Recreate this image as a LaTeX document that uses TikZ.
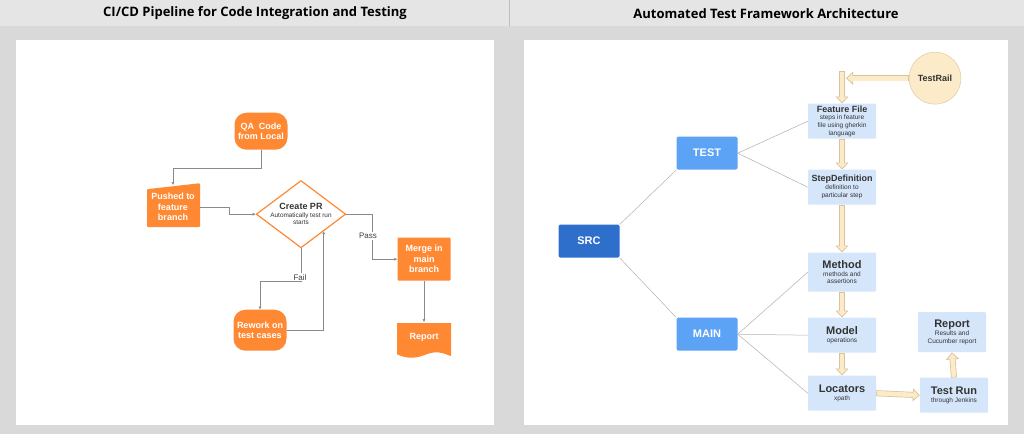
\documentclass[tikz,border=0pt]{standalone}
\usepackage{fontspec}
\setmainfont{Liberation Sans}
\newfontfamily\titlefont{Open Sans}
\usetikzlibrary{shapes.geometric,arrows.meta,backgrounds}
\definecolor{qaorange}{HTML}{FF8833}
\definecolor{srcblue}{HTML}{2F6FCC}
\definecolor{tblue}{HTML}{5CA3F6}
\definecolor{pblue}{HTML}{D5E6FB}
\definecolor{beige}{HTML}{FCEBC8}
\definecolor{tan}{HTML}{D8C39C}
\definecolor{linegray}{HTML}{8A8A8A}
\newcommand{\bighead}{\fontsize{11}{13}\selectfont\bfseries}
\newcommand{\midhead}{\fontsize{9}{11}\selectfont\bfseries}
\newcommand{\smalltext}{\fontsize{6.5}{7.8}\selectfont}
\tikzset{
  task/.style={fill=qaorange, text=white, font=\fontsize{9}{10.5}\selectfont\bfseries, align=center, minimum width=53pt, minimum height=38pt, inner sep=1pt},
  flow/.style={draw=linegray, line width=0.5pt, -{Latex[length=3pt,width=3pt]}},
  topic/.style={fill=tblue, text=white, rounded corners=1.5pt, font=\fontsize{11}{13}\selectfont\bfseries, minimum width=61pt, minimum height=33pt},
  part/.style={fill=pblue, rounded corners=1pt, align=center, minimum width=68pt, minimum height=35pt, inner sep=1pt, text=black!80, font=\smalltext},
  branch/.style={draw=black!30, line width=0.5pt},
  fat/.style={draw=tan, line width=6pt, -{Triangle[fill=beige, line width=0.7pt, length=7pt, width=13pt]}},
  fatin/.style={draw=beige, line width=4.6pt, shorten >=6pt, shorten <=0.7pt}
}
\begin{document}
\begin{tikzpicture}[x=1pt, y=-1pt]
% panels
\fill[black!15] (0,0) rectangle (1024,434);
\fill[black!10] (0,0) rectangle (1024,26);
\draw[black!25] (509,0) -- (509,26);
\fill[white] (16,40) rectangle (494,425);
\fill[white] (524,40) rectangle (1008,425);
\node[font=\titlefont\fontsize{13}{15}\selectfont\bfseries] (t1) at (255,13) {CI/CD Pipeline for Code Integration and Testing};
\node[font=\titlefont\fontsize{13}{15}\selectfont\bfseries] (t2) at (766,13) {Automated Test Framework Architecture};

% left: pipeline
\node[task, rounded corners=12pt, minimum height=37pt] (qa) at (261,131) {QA\ \ Code\\from Local};
\fill[qaorange, rounded corners=1pt] (147,227) -- (200,227) -- (200,183) -- (147,189) -- cycle;
\node[task, fill=none, minimum height=44pt] (push) at (173,207) {Pushed to\\feature\\branch};
\node[diamond, draw=qaorange, line width=1.2pt, fill=white, aspect=1.33, minimum width=82pt, minimum height=62pt, inner sep=0pt, align=center, text=black!80, font=\fontsize{6.4}{7.5}\selectfont] (pr) at (301,214)
  {{\fontsize{9}{10}\selectfont\bfseries Create PR}\\Automatically test run\\starts};
\node[task, rounded corners=1pt, minimum height=43pt] (merge) at (424,259) {Merge in\\main\\branch};
\node[task, rounded corners=12pt, minimum height=41pt] (rework) at (260,330) {Rework on\\test cases};
\fill[qaorange] (397,323) -- (451,323) -- (451,356) .. controls (438,350) and (432,352) .. (424,355) .. controls (414,359) and (405,358) .. (397,354) -- cycle;
\node[task, fill=none, minimum height=30pt] (report) at (424,337) {Report};

\draw[flow] (qa.south) -- ++(0,18) -| (push.north);
\draw[flow] (push.east) -- ++(30,0) |- (pr.west);
\draw[flow] (pr.east) -- ++(26,0) |- (merge.west);
\node[font=\fontsize{8}{9}\selectfont, text=black!75, fill=white, inner sep=1pt] (pass) at (368,236) {Pass};
\draw[flow] (pr.south) -- ++(0,33) -| (rework.north);
\node[font=\fontsize{8}{9}\selectfont, text=black!75, fill=white, inner sep=1pt] (fail) at (300,277) {Fail};
\draw[flow] (rework.east) -- ++(37,0) -- ++(0,-99);
\draw[flow] (merge.south) -- (report.north);

% right: framework
\node[topic, fill=srcblue] (src) at (589,241) {SRC};
\node[topic] (test) at (707,153) {TEST};
\node[topic] (main) at (707,334) {MAIN};
\node[part] (feature) at (842,121) {{\midhead Feature File}\\steps in feature\\file using gherkin\\language};
\node[part] (stepdef) at (842,187) {{\midhead StepDefinition}\\definition to\\particular step};
\node[part, minimum height=39pt] (method) at (842,272) {{\bighead Method}\\methods and\\assertions};
\node[part] (model) at (842,335) {{\bighead Model}\\operations};
\node[part] (locators) at (842,393) {{\bighead Locators}\\xpath};
\node[part] (testrun) at (954,395) {{\bighead Test Run}\\through Jenkins};
\node[part, minimum height=40pt] (rep) at (952,332) {{\bighead Report}\\Results and\\Cucumber report};
\node[circle, draw=tan, fill=beige, minimum size=52pt, font=\fontsize{9}{10}\selectfont\bfseries, text=black!80] (testrail) at (935,78) {TestRail};

\draw[branch] (src.north east) -- (test.south west);
\draw[branch] (src.south east) -- (main.north west);
\draw[branch] (test.east) -- (feature.west);
\draw[branch] (test.east) -- (stepdef.west);
\draw[branch] (main.east) -- (method.west);
\draw[branch] (main.east) -- (model.west);
\draw[branch] (main.east) -- (locators.west);

\coordinate (railtop) at (842,71);
\foreach \a/\b in {railtop/feature, feature/stepdef, stepdef/method, method/model, model/locators}{
  \draw[fat] (\a.south) -- (\b.north);
  \draw[fatin] (\a.south) -- (\b.north);
}
\coordinate (railend) at (846,78);
\draw[fat] (testrail.west) -- (railend);
\draw[fatin] (testrail.west) -- (railend);
\draw[fat] (locators.east) -- (testrun.west);
\draw[fatin] (locators.east) -- (testrun.west);
\draw[fat] (testrun.north) -- (rep.south);
\draw[fatin] (testrun.north) -- (rep.south);
\end{tikzpicture}
\end{document}
